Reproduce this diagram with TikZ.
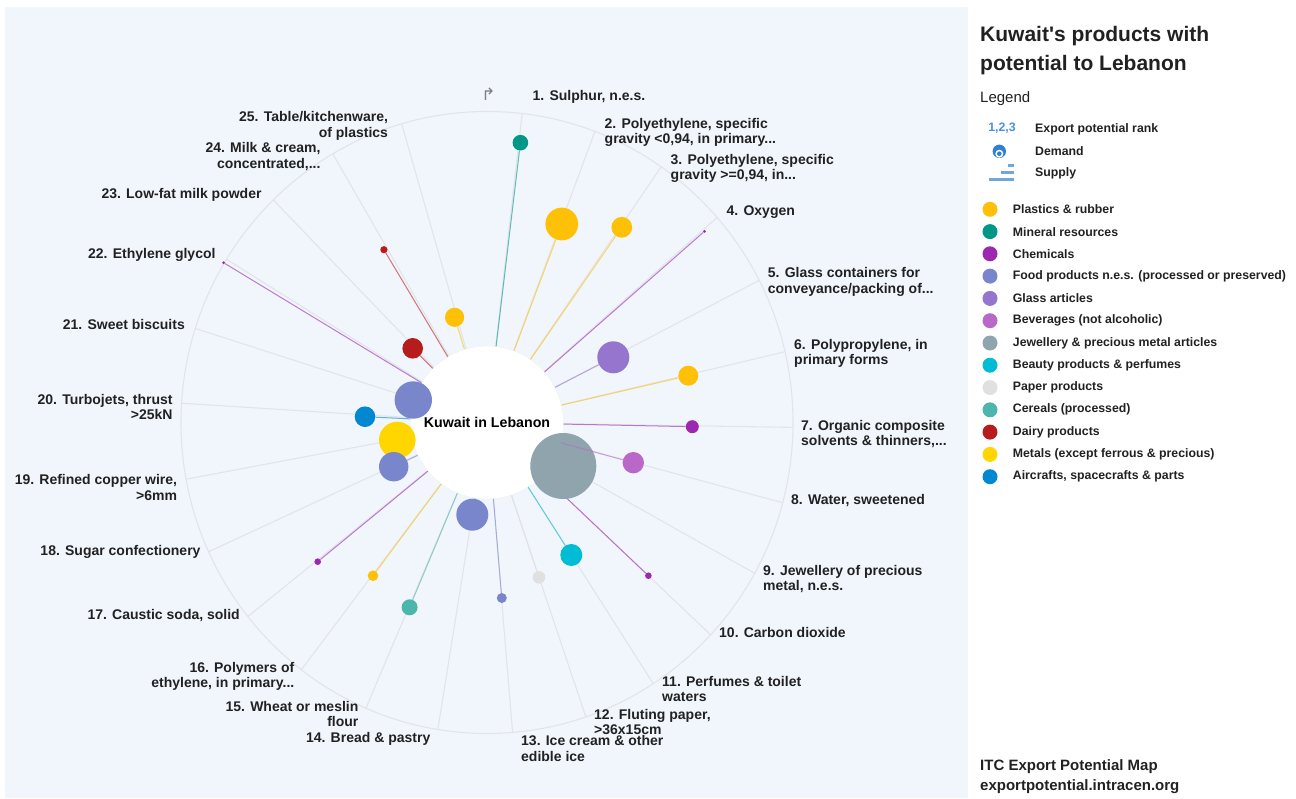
\documentclass[tikz,border=0pt]{standalone}
\usepackage{fontspec}
\setmainfont{Liberation Sans}[Ligatures=TeXOff]
\newfontfamily\symfont{DejaVu Sans}
\usetikzlibrary{positioning}

\definecolor{panel}{HTML}{F1F6FD}
\definecolor{spokegray}{HTML}{E2E4E8}
\definecolor{plastic}{HTML}{FFC107}
\definecolor{mineral}{HTML}{009688}
\definecolor{chemical}{HTML}{9C27B0}
\definecolor{foodprod}{HTML}{7986CB}
\definecolor{glassart}{HTML}{9575CD}
\definecolor{beverage}{HTML}{BA68C8}
\definecolor{jewel}{HTML}{90A4AE}
\definecolor{beauty}{HTML}{00BCD4}
\definecolor{paperprod}{HTML}{E0E0E0}
\definecolor{cereal}{HTML}{4DB6AC}
\definecolor{dairy}{HTML}{B71C1C}
\definecolor{metal}{HTML}{FFD600}
\definecolor{aircraft}{HTML}{0288D1}
\definecolor{rankblue}{HTML}{4A90E2}
\definecolor{demandblue}{HTML}{2F7FD6}
\definecolor{supplyblue}{HTML}{6FA6DE}

\newcommand\lblfont{\fontsize{14}{15.7}\selectfont\bfseries}
\newcommand\legfont{\fontsize{12.3}{14}\selectfont\bfseries}
\newcommand\hubfont{\fontsize{14.2}{16}\selectfont\bfseries}

\tikzset{
	spoke/.style={draw=spokegray, line width=1.1pt},
	hub/.style={circle, fill=white, draw=black!6, minimum size=153pt, inner sep=0pt, font=\hubfont},
	bubble/.style={circle, fill=#1, inner sep=0pt},
	link/.style={draw=#1, line width=1pt, opacity=0.6},
	lbl/.style={font=\lblfont, inner sep=0pt, text=black!87},
	rlbl/.style={lbl, anchor=west, align=left},
	llbl/.style={lbl, anchor=east, align=right}
}
\tikzset{
	dot/.style={circle, fill=#1, minimum size=15pt, inner sep=0pt},
	legtext/.style={font=\legfont, inner sep=0pt, anchor=west, text=black!87}
}

\begin{document}
\begin{tikzpicture}[x=1pt, y=-1pt]
\useasboundingbox (0,0) rectangle (1296,798);
\fill[panel] (5,7) rectangle (968,798);

\coordinate (c) at (487,422.5);
\foreach \k in {1,...,25}{
	\draw[spoke] (c) -- ({487+306*sin(6.6+(\k-1)*14.05)},{422.5-311*cos(6.6+(\k-1)*14.05)});
}
\draw[spoke] (c) ellipse [x radius=306pt, y radius=311pt];
\node[hub] (hub) at (c) {Kuwait in Lebanon};
\node[text=black!50, font=\symfont\fontsize{17}{17}\selectfont, inner sep=0pt] (turn) at (488.5,94.5) {↱};

% bubbles, last rank first
\node[bubble=plastic, minimum size=19.2pt] (b25) at (454.6,317.3) {};
\draw[link=plastic] (hub) -- (b25);
\node[bubble=dairy, minimum size=7.2pt] (b24) at (383.9,249.7) {};
\draw[link=dairy] (hub) -- (b24);
\node[bubble=dairy, minimum size=20.6pt] (b23) at (412.7,348.3) {};
\draw[link=dairy] (hub) -- (b23);
\node[bubble=chemical, minimum size=3pt] (b22) at (223.6,262.7) {};
\draw[link=chemical] (hub) -- (b22);
\node[bubble=foodprod, minimum size=37.4pt] (b21) at (413.3,400) {};
\node[bubble=aircraft, minimum size=20.6pt] (b20) at (365,416.7) {};
\draw[link=aircraft] (hub) -- (b20);
\node[bubble=metal, minimum size=36.6pt] (b19) at (397.3,440) {};
\node[bubble=foodprod, minimum size=29.4pt] (b18) at (393.7,466.7) {};
\draw[link=foodprod] (hub) -- (b18);
\node[bubble=chemical, minimum size=6.6pt] (b17) at (317.7,561.7) {};
\draw[link=chemical] (hub) -- (b17);
\node[bubble=plastic, minimum size=10.6pt] (b16) at (373,575.7) {};
\draw[link=plastic] (hub) -- (b16);
\node[bubble=cereal, minimum size=16pt] (b15) at (409.6,607.3) {};
\draw[link=cereal] (hub) -- (b15);
\node[bubble=foodprod, minimum size=32pt] (b14) at (472.3,514.7) {};
\draw[link=foodprod] (hub) -- (b14);
\node[bubble=foodprod, minimum size=10pt] (b13) at (501.8,598) {};
\draw[link=foodprod] (hub) -- (b13);
\node[bubble=paperprod, minimum size=12.6pt] (b12) at (539,577.3) {};
\draw[link=paperprod] (hub) -- (b12);
\node[bubble=beauty, minimum size=22pt] (b11) at (571.3,555) {};
\draw[link=beauty] (hub) -- (b11);
\node[bubble=chemical, minimum size=6.6pt] (b10) at (648.4,575.7) {};
\draw[link=chemical] (hub) -- (b10);
\node[bubble=jewel, minimum size=66pt] (b9) at (563.3,466) {};
\node[bubble=beverage, minimum size=21.4pt] (b8) at (633.3,462.7) {};
\draw[link=beverage] (hub) -- (b8);
\node[bubble=chemical, minimum size=13pt] (b7) at (692.3,426.7) {};
\draw[link=chemical] (hub) -- (b7);
\node[bubble=plastic, minimum size=20pt] (b6) at (688.3,375.7) {};
\draw[link=plastic] (hub) -- (b6);
\node[bubble=glassart, minimum size=32pt] (b5) at (613.3,357.3) {};
\draw[link=glassart] (hub) -- (b5);
\node[bubble=chemical, minimum size=3pt] (b4) at (704.5,231.3) {};
\draw[link=chemical] (hub) -- (b4);
\node[bubble=plastic, minimum size=20.8pt] (b3) at (621.8,227.3) {};
\draw[link=plastic] (hub) -- (b3);
\node[bubble=plastic, minimum size=32.8pt] (b2) at (561.8,224) {};
\draw[link=plastic] (hub) -- (b2);
\node[bubble=mineral, minimum size=15.6pt] (b1) at (520.4,142.7) {};
\draw[link=mineral] (hub) -- (b1);

% product labels
\node[rlbl] (l1) at (532.5,96.5) {1. Sulphur, n.e.s.};
\node[rlbl] (l2) at (604.5,132.5) {2. Polyethylene, specific\\gravity <0,94, in primary...};
\node[rlbl] (l3) at (670.5,168.5) {3. Polyethylene, specific\\gravity >=0,94, in...};
\node[rlbl] (l4) at (726.5,211.7) {4. Oxygen};
\node[rlbl] (l5) at (767.7,282) {5. Glass containers for\\conveyance/packing of...};
\node[rlbl] (l6) at (794,353.5) {6. Polypropylene, in\\primary forms};
\node[rlbl] (l7) at (801,434) {7. Organic composite\\solvents \& thinners,...};
\node[rlbl] (l8) at (791,500.7) {8. Water, sweetened};
\node[rlbl] (l9) at (763,579) {9. Jewellery of precious\\metal, n.e.s.};
\node[rlbl] (l10) at (719,632.3) {10. Carbon dioxide};
\node[rlbl] (l11) at (662,689) {11. Perfumes \& toilet\\waters};
\node[rlbl] (l12) at (594,722) {12. Fluting paper,\\>36x15cm};
\node[rlbl] (l13) at (521,748.7) {13. Ice cream \& other\\edible ice};
\node[llbl] (l14) at (430.5,739) {14. Bread \& pastry};
\node[llbl] (l15) at (358.6,714) {15. Wheat or meslin\\flour};
\node[llbl] (l16) at (294.5,676.3) {16. Polymers of\\ethylene, in primary...};
\node[llbl] (l17) at (240,615.5) {17. Caustic soda, solid};
\node[llbl] (l18) at (200.7,551.7) {18. Sugar confectionery};
\node[llbl] (l19) at (177.3,487.5) {19. Refined copper wire,\\>6mm};
\node[llbl] (l20) at (172.7,407) {20. Turbojets, thrust\\>25kN};
\node[llbl] (l21) at (185,324) {21. Sweet biscuits};
\node[llbl] (l22) at (215.7,255) {22. Ethylene glycol};
\node[llbl] (l23) at (261.7,195) {23. Low-fat milk powder};
\node[llbl] (l24) at (320.7,156.7) {24. Milk \& cream,\\concentrated,...};
\node[llbl] (l25) at (388.2,125.8) {25. Table/kitchenware,\\of plastics};

% legend
\node[anchor=west, align=left, inner sep=0pt, text=black!87, font=\fontsize{21}{29}\selectfont\bfseries] (title) at (980,50.8) {Kuwait's products with\\potential to Lebanon};
\node[anchor=west, inner sep=0pt, text=black!87, font=\fontsize{15}{17}\selectfont] (legend) at (980,98.5) {Legend};

\node[font=\legfont, text=rankblue, inner sep=0pt] (rank) at (1002,128.5) {1,2,3};
\node[legtext] (rankt) at (1035,129) {Export potential rank};
\node[circle, fill=demandblue, minimum size=13.4pt, inner sep=0pt] (dem) at (999.3,151.3) {};
\node[circle, fill=white, minimum size=8pt, inner sep=0pt] (demring) at (999.3,153.7) {};
\node[circle, fill=demandblue, minimum size=4.6pt, inner sep=0pt] (demcore) at (999.3,153.7) {};
\node[legtext] (demt) at (1035,151.3) {Demand};
\draw[supplyblue, line width=2.6pt] (1008.3,165.3) -- (1013.5,165.3);
\draw[supplyblue, line width=2.6pt] (1001,172.5) -- (1013.5,172.5);
\draw[supplyblue, line width=2.6pt] (989,179.7) -- (1013.5,179.7);
\node[legtext] (supt) at (1035,173.3) {Supply};

\node[dot=plastic] (d1) at (990,209.3) {};
\node[legtext, right=15pt of d1] {Plastics \& rubber};
\node[dot=mineral] (d2) at (990,231.6) {};
\node[legtext, right=15pt of d2] {Mineral resources};
\node[dot=chemical] (d3) at (990,253.8) {};
\node[legtext, right=15pt of d3] {Chemicals};
\node[dot=foodprod] (d4) at (990,276.1) {};
\node[legtext, right=15pt of d4] {Food products n.e.s. (processed or preserved)};
\node[dot=glassart] (d5) at (990,298.4) {};
\node[legtext, right=15pt of d5] {Glass articles};
\node[dot=beverage] (d6) at (990,320.7) {};
\node[legtext, right=15pt of d6] {Beverages (not alcoholic)};
\node[dot=jewel] (d7) at (990,343) {};
\node[legtext, right=15pt of d7] {Jewellery \& precious metal articles};
\node[dot=beauty] (d8) at (990,365.2) {};
\node[legtext, right=15pt of d8] {Beauty products \& perfumes};
\node[dot=paperprod] (d9) at (990,387.5) {};
\node[legtext, right=15pt of d9] {Paper products};
\node[dot=cereal] (d10) at (990,409.8) {};
\node[legtext, right=15pt of d10] {Cereals (processed)};
\node[dot=dairy] (d11) at (990,432.1) {};
\node[legtext, right=15pt of d11] {Dairy products};
\node[dot=metal] (d12) at (990,454.4) {};
\node[legtext, right=15pt of d12] {Metals (except ferrous \& precious)};
\node[dot=aircraft] (d13) at (990,476.7) {};
\node[legtext, right=15pt of d13] {Aircrafts, spacecrafts \& parts};

\node[anchor=west, align=left, inner sep=0pt, text=black!87, font=\fontsize{15}{20}\selectfont\bfseries] (itc) at (980,777) {ITC Export Potential Map\\exportpotential.intracen.org};
\end{tikzpicture}
\end{document}
